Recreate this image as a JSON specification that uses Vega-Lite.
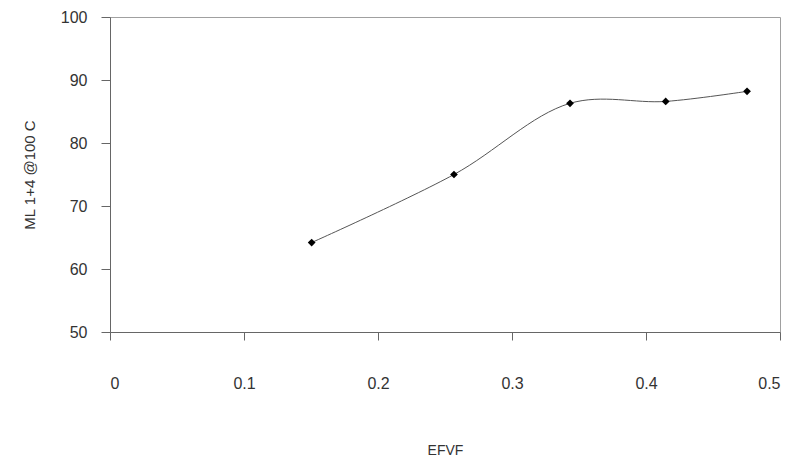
{
  "$schema": "https://vega.github.io/schema/vega-lite/v6.json",
  "width": 670,
  "height": 315,
  "autosize": {"type": "none"},
  "padding": {"left": 110, "top": 17, "right": 14, "bottom": 127},
  "background": "white",
  "config": {
    "view": {"stroke": "#a0a0a0", "strokeWidth": 1},
    "font": "Liberation Sans",
    "axis": {
      "grid": false,
      "domainColor": "#666666",
      "tickColor": "#666666",
      "labelFont": "Liberation Sans",
      "labelFontSize": 16,
      "labelColor": "#333333",
      "titleFont": "Liberation Sans",
      "titleFontSize": 14,
      "titleFontWeight": "normal",
      "titleColor": "#333333"
    }
  },
  "data": {
    "values": [
      {"EFVF": 0.1505, "ML": 64.2},
      {"EFVF": 0.2567, "ML": 75.0},
      {"EFVF": 0.3433, "ML": 86.3},
      {"EFVF": 0.4147, "ML": 86.6},
      {"EFVF": 0.4754, "ML": 88.2}
    ]
  },
  "encoding": {
    "x": {
      "field": "EFVF",
      "type": "quantitative",
      "title": "EFVF",
      "scale": {"domain": [0, 0.5], "nice": false, "zero": false},
      "axis": {
        "values": [0, 0.1, 0.2, 0.3, 0.4, 0.5],
        "format": "~g",
        "tickSize": 8,
        "labelPadding": 35,
        "titlePadding": 52
      }
    },
    "y": {
      "field": "ML",
      "type": "quantitative",
      "title": "ML 1+4 @100 C",
      "scale": {"domain": [50, 100], "nice": false, "zero": false},
      "axis": {
        "values": [50, 60, 70, 80, 90, 100],
        "tickSize": 9,
        "labelPadding": 14,
        "titleFontSize": 15,
        "titlePadding": 23
      }
    }
  },
  "layer": [
    {
      "mark": {"type": "line", "interpolate": "catmull-rom", "color": "#555555", "strokeWidth": 1}
    },
    {
      "mark": {"type": "point", "shape": "diamond", "filled": true, "color": "black", "size": 60, "opacity": 1}
    }
  ]
}
